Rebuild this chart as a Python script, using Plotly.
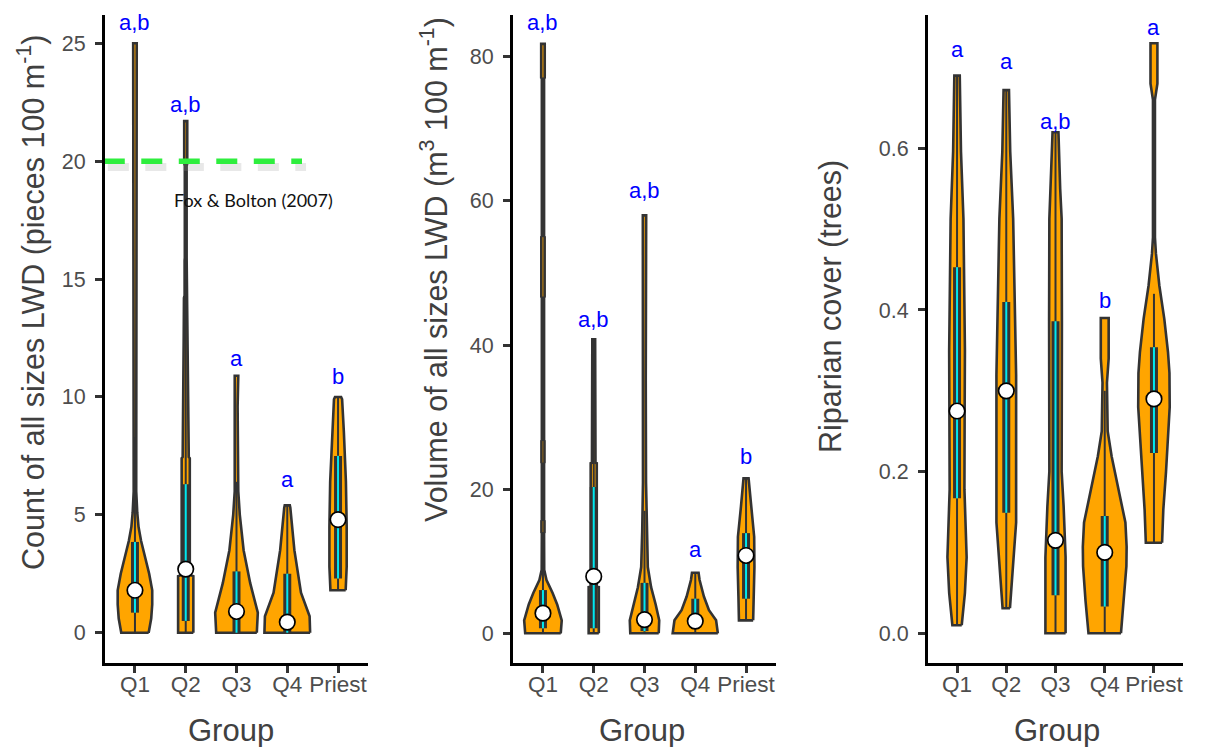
import plotly.graph_objects as go

groups = ["Q1", "Q2", "Q3", "Q4", "Priest"]
positions = [1, 2, 3, 4, 5]

# ---------- Panel 1: count of all sizes LWD ----------
count_prof_y = [
    [0, 0.6, 1.2, 1.8, 2.5, 3.2, 3.9, 4.5, 5.1, 6.0, 17.6, 17.65, 22.8, 22.85, 24.0, 24.05, 25.0],
    [0, 2.4, 2.45, 7.4, 7.45, 12.5, 14.2, 14.3, 15.8, 15.9, 19.8, 19.9, 21.7],
    [0, 0.85, 2.1, 3.5, 5.0, 6.0, 9.6, 10.3, 10.35, 10.9],
    [0, 0.7, 1.7, 3.5, 5.3, 5.4],
    [1.8, 2.8, 4.5, 6.4, 8.5, 9.9, 10.0],
]
count_prof_hw = [
    [0.27, 0.32, 0.34, 0.34, 0.28, 0.20, 0.12, 0.07, 0.045, 0.025, 0.025, 0.032, 0.032, 0.022, 0.022, 0.035, 0.035],
    [0.15, 0.15, 0.08, 0.08, 0.06, 0.04, 0.035, 0.022, 0.022, 0.018, 0.018, 0.03, 0.03],
    [0.40, 0.42, 0.27, 0.14, 0.065, 0.035, 0.022, 0.022, 0.035, 0.035],
    [0.45, 0.44, 0.27, 0.14, 0.06, 0.05],
    [0.15, 0.17, 0.17, 0.155, 0.115, 0.08, 0.06],
]
count_lower = [0, 0, 0, 0, 1.8]
count_q1 = [0.85, 0.5, 0.0, 0.0, 2.3]
count_med = [1.8, 2.7, 0.9, 0.45, 4.8]
count_q3 = [3.85, 6.3, 2.6, 2.5, 7.5]
count_upper = [8.3, 15.0, 6.4, 5.4, 10.0]
count_letters = ["a,b", "a,b", "a", "a", "b"]
count_letter_y = [25.9, 22.4, 11.65, 6.48, 10.85]
count_ticks = [0, 5, 10, 15, 20, 25]
reference_value = 20
reference_label = "Fox & Bolton (2007)"

# ---------- Panel 2: volume of all sizes LWD ----------
vol_prof_y = [
    [0, 1.8, 4.0, 5.6, 7.4, 8.8, 13.9, 14.0, 15.6, 15.7, 23.6, 23.7, 26.7, 26.8, 46.6, 46.7, 55.0, 55.1, 77.0, 77.1, 81.8],
    [0, 6.4, 6.45, 23.6, 23.65, 35.0, 40.8],
    [0, 1.8, 4.0, 6.4, 9.2, 14.2, 21.0, 35.0, 52.7, 55.4, 55.45, 58.0],
    [0, 1.8, 3.2, 5.1, 7.4, 8.4],
    [1.8, 5.1, 9.2, 13.4, 17.6, 20.4, 21.5],
]
vol_prof_hw = [
    [0.35, 0.37, 0.28, 0.19, 0.07, 0.025, 0.022, 0.03, 0.03, 0.022, 0.022, 0.03, 0.03, 0.022, 0.022, 0.033, 0.033, 0.022, 0.022, 0.035, 0.035],
    [0.10, 0.10, 0.06, 0.06, 0.035, 0.03, 0.028],
    [0.28, 0.29, 0.22, 0.13, 0.065, 0.045, 0.03, 0.025, 0.02, 0.02, 0.033, 0.033],
    [0.445, 0.41, 0.27, 0.17, 0.085, 0.065],
    [0.14, 0.15, 0.165, 0.16, 0.10, 0.06, 0.05],
]
vol_lower = [0, 0, 0, 0, 1.8]
vol_q1 = [0.7, 0.7, 0.3, 0.6, 4.8]
vol_med = [2.8, 7.9, 1.9, 1.7, 10.8]
vol_q3 = [6.0, 20.3, 7.0, 4.8, 13.9]
vol_upper = [14.0, 40.8, 17.0, 8.4, 21.5]
vol_letters = ["a,b", "a,b", "a,b", "a", "b"]
vol_letter_y = [84.8, 43.5, 61.5, 11.6, 24.5]
vol_ticks = [0, 20, 40, 60, 80]

# ---------- Panel 3: riparian cover ----------
cov_prof_y = [
    [0.01, 0.05, 0.094, 0.178, 0.28, 0.35, 0.513, 0.596, 0.69],
    [0.031, 0.075, 0.137, 0.32, 0.389, 0.513, 0.596, 0.672],
    [0, 0.094, 0.157, 0.2, 0.386, 0.513, 0.55, 0.62],
    [0, 0.04, 0.083, 0.107, 0.137, 0.178, 0.219, 0.25, 0.31, 0.34, 0.39],
    [0.112, 0.153, 0.2, 0.24, 0.28, 0.322, 0.348, 0.389, 0.43, 0.47, 0.49, 0.66, 0.68, 0.73],
]
cov_prof_hw = [
    [0.095, 0.16, 0.195, 0.15, 0.155, 0.16, 0.13, 0.08, 0.055],
    [0.075, 0.13, 0.20, 0.20, 0.18, 0.14, 0.08, 0.055],
    [0.205, 0.205, 0.165, 0.125, 0.13, 0.125, 0.095, 0.06],
    [0.33, 0.39, 0.44, 0.445, 0.42, 0.28, 0.14, 0.06, 0.045, 0.08, 0.08],
    [0.165, 0.19, 0.245, 0.28, 0.32, 0.315, 0.285, 0.21, 0.11, 0.04, 0.02, 0.02, 0.07, 0.07],
]
cov_lower = [0.01, 0.031, 0, 0, 0.112]
cov_q1 = [0.167, 0.149, 0.047, 0.033, 0.223]
cov_med = [0.275, 0.30, 0.115, 0.10, 0.29]
cov_q3 = [0.453, 0.41, 0.386, 0.145, 0.354]
cov_upper = [0.69, 0.672, 0.62, 0.30, 0.42]
cov_letters = ["a", "a", "a,b", "b", "a"]
cov_letter_y = [0.722, 0.707, 0.633, 0.412, 0.75]
cov_ticks = [0.0, 0.2, 0.4, 0.6]
cov_ticktext = ["0.0", "0.2", "0.4", "0.6"]

y_titles = [
    "Count of all sizes LWD (pieces 100 m<sup>-1</sup>)",
    "Volume of all sizes LWD (m<sup>3</sup> 100 m<sup>-1</sup>)",
    "Riparian cover (trees)",
]

# ---------- styling / layout helpers ----------
OFF = 8                      # page body margin of the html page
W, H = 1206 - OFF, 747 - OFF  # figure size so that it ends at the window edge
FONT = "Liberation Sans, Arial, sans-serif"
ORANGE = "#FFA500"
DARK = "#333333"
CYAN = "#00E8F0"
TICKGREY = "#4D4D4D"
TITLEGREY = "#404040"


def px_x(sx):
    return (sx - OFF) / W


def px_y(sy):
    return 1 - (sy - OFF) / H


x_dom = [[px_x(105), px_x(368)], [px_x(513), px_x(776)], [px_x(928), px_x(1183)]]
y_dom = [px_y(663), px_y(15)]
y_ranges = [[-1.285, 26.2], [-4.12, 85.8], [-0.0368, 0.765]]
x_range = [0.41, 5.59]

fig = go.Figure()

panels = [
    (count_prof_y, count_prof_hw, count_lower, count_q1, count_med, count_q3, count_upper, count_letters, count_letter_y),
    (vol_prof_y, vol_prof_hw, vol_lower, vol_q1, vol_med, vol_q3, vol_upper, vol_letters, vol_letter_y),
    (cov_prof_y, cov_prof_hw, cov_lower, cov_q1, cov_med, cov_q3, cov_upper, cov_letters, cov_letter_y),
]

annotations = []
for p, (py, phw, lo, q1, med, q3, up, letters, ly) in enumerate(panels):
    xa = "x" if p == 0 else f"x{p+1}"
    ya = "y" if p == 0 else f"y{p+1}"
    for g, pos in enumerate(positions):
        ys = py[g]
        hws = phw[g]
        vx = [pos + h for h in hws] + [pos - h for h in reversed(hws)] + [pos + hws[0]]
        vy = list(ys) + list(reversed(ys)) + [ys[0]]
        fig.add_trace(go.Scatter(
            x=vx, y=vy, mode="lines", fill="toself", fillcolor=ORANGE,
            line=dict(color=DARK, width=2.6), xaxis=xa, yaxis=ya,
            showlegend=False, hoverinfo="skip"))
    for g, pos in enumerate(positions):
        fig.add_trace(go.Scatter(
            x=[pos, pos, None, pos, pos], y=[lo[g], q1[g], None, q3[g], up[g]],
            mode="lines", line=dict(color=DARK, width=2), xaxis=xa, yaxis=ya,
            showlegend=False, hoverinfo="skip"))
        fig.add_trace(go.Scatter(
            x=[pos, pos], y=[q1[g], q3[g]], mode="lines",
            line=dict(color=DARK, width=8), xaxis=xa, yaxis=ya,
            showlegend=False, hoverinfo="skip"))
        fig.add_trace(go.Scatter(
            x=[pos, pos], y=[q1[g], q3[g]], mode="lines",
            line=dict(color=CYAN, width=2), xaxis=xa, yaxis=ya,
            showlegend=False, hoverinfo="skip"))
    fig.add_trace(go.Scatter(
        x=positions, y=med, mode="markers",
        marker=dict(size=15.5, color="white", line=dict(color="black", width=1.7)),
        xaxis=xa, yaxis=ya, showlegend=False, hoverinfo="skip"))
    for g, pos in enumerate(positions):
        annotations.append(dict(
            x=pos, y=ly[g], xref=xa, yref=ya, text=letters[g], showarrow=False,
            font=dict(family=FONT, size=22, color="#0000FF"),
            xanchor="center", yanchor="middle"))

# reference line (panel 1) with soft shadow
fig.add_trace(go.Scatter(
    x=[0.386 + 0.08, 4.29 + 0.08], y=[reference_value - 0.25, reference_value - 0.25],
    mode="lines", line=dict(color="rgba(150,150,150,0.22)", width=8, dash="21px,16.5px"),
    xaxis="x", yaxis="y", showlegend=False, hoverinfo="skip"))
fig.add_trace(go.Scatter(
    x=[0.386, 4.29], y=[reference_value, reference_value],
    mode="lines", line=dict(color="#2EEE3E", width=5.5, dash="21px,16.5px"),
    xaxis="x", yaxis="y", showlegend=False, hoverinfo="skip"))
annotations.append(dict(
    x=(254 - 135) / 50.8 + 1, y=reference_value - 1.65, xref="x", yref="y",
    text=reference_label, showarrow=False,
    font=dict(family="Lato, Noto Sans, sans-serif", size=18, color="#111111"),
    xanchor="center", yanchor="middle"))

# axis titles
title_pos = [(31, 303), (434, 270), (830, 307)]
for i, (tx, ty) in enumerate(title_pos):
    annotations.append(dict(
        x=px_x(tx), y=px_y(ty), xref="paper", yref="paper", text=y_titles[i],
        textangle=-90, showarrow=False, xanchor="center", yanchor="middle",
        font=dict(family=FONT, size=30.5, color=TITLEGREY)))
group_x = [231, 642, 1057]
for gx in group_x:
    annotations.append(dict(
        x=px_x(gx), y=px_y(730), xref="paper", yref="paper", text="Group",
        showarrow=False, xanchor="center", yanchor="middle",
        font=dict(family=FONT, size=31, color=TITLEGREY)))

layout = dict(
    width=W, height=H, plot_bgcolor="white", paper_bgcolor="white",
    margin=dict(l=0, r=0, t=0, b=0), showlegend=False,
    annotations=annotations,
)
yticks = [(count_ticks, [str(t) for t in count_ticks]),
          (vol_ticks, [str(t) for t in vol_ticks]),
          (cov_ticks, cov_ticktext)]
for i in range(3):
    sx = "" if i == 0 else str(i + 1)
    layout[f"xaxis{sx}"] = dict(
        domain=x_dom[i], range=x_range, anchor=f"y{sx}", tickmode="array",
        tickvals=positions, ticktext=groups, showgrid=False, zeroline=False,
        showline=True, linecolor="black", linewidth=3, ticks="outside",
        ticklen=7, tickwidth=2.5, tickcolor=DARK, ticklabelstandoff=-8,
        tickfont=dict(family=FONT, size=22.5, color=TICKGREY))
    layout[f"yaxis{sx}"] = dict(
        domain=y_dom, range=y_ranges[i], anchor=f"x{sx}", tickmode="array",
        tickvals=yticks[i][0], ticktext=yticks[i][1], showgrid=False,
        zeroline=False, showline=True, linecolor="black", linewidth=3,
        ticks="outside", ticklen=7, tickwidth=2.5, tickcolor=DARK,
        ticklabelstandoff=5,
        tickfont=dict(family=FONT, size=21.5, color=TICKGREY))

fig.update_layout(**layout)
fig.write_html("out.html")
